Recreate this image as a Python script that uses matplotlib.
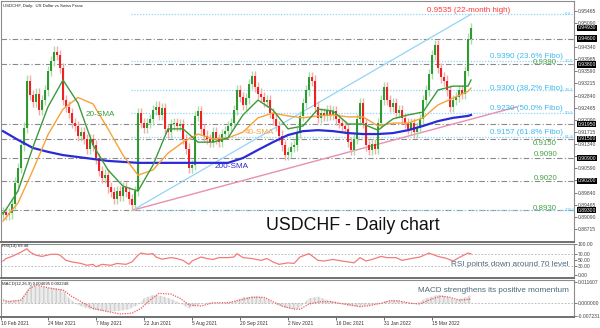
import matplotlib
matplotlib.use("Agg")
import matplotlib.pyplot as plt
import matplotlib.transforms as mtrans

plt.rcParams['font.family'] = ['Liberation Sans', 'DejaVu Sans']

# one candle per two trading days
closes = [
    0.8925, 0.8915, 0.8920, 0.8950, 0.9015, 0.9060, 0.9130, 0.9185, 0.9330, 0.9285,
    0.9265, 0.9290, 0.9240, 0.9270, 0.9300, 0.9360, 0.9390, 0.9420, 0.9410, 0.9370,
    0.9270, 0.9250, 0.9230, 0.9200, 0.9190, 0.9160, 0.9170, 0.9150, 0.9120, 0.9150,
    0.9130, 0.9090, 0.9050, 0.9030, 0.9040, 0.9000, 0.8985, 0.8965, 0.8990, 0.8975,
    0.9000, 0.8985, 0.8965, 0.8945, 0.8990, 0.9230, 0.9200, 0.9185, 0.9200, 0.9210,
    0.9240, 0.9250, 0.9225, 0.9245, 0.9180, 0.9170, 0.9195, 0.9200, 0.9190, 0.9195,
    0.9150, 0.9120, 0.9060, 0.9070, 0.9220, 0.9235, 0.9180, 0.9160, 0.9150, 0.9140,
    0.9170, 0.9150, 0.9140, 0.9165, 0.9175, 0.9190, 0.9200, 0.9240, 0.9300,
    0.9280, 0.9255, 0.9275, 0.9320, 0.9345, 0.9310, 0.9290, 0.9280, 0.9265, 0.9270,
    0.9230, 0.9210, 0.9190, 0.9160, 0.9130, 0.9100, 0.9110, 0.9125, 0.9130, 0.9170,
    0.9220, 0.9260, 0.9300, 0.9340, 0.9330, 0.9250, 0.9215, 0.9230, 0.9220, 0.9240,
    0.9225, 0.9235, 0.9210, 0.9200, 0.9190, 0.9180, 0.9140, 0.9115, 0.9150, 0.9210,
    0.9260, 0.9200, 0.9130, 0.9115, 0.9135, 0.9120, 0.9200, 0.9270, 0.9310, 0.9270,
    0.9250, 0.9260, 0.9230, 0.9240, 0.9215, 0.9200, 0.9180, 0.9200, 0.9170, 0.9185,
    0.9210, 0.9270, 0.9300, 0.9350, 0.9410, 0.9440, 0.9370, 0.9340, 0.9330, 0.9300,
    0.9250, 0.9270, 0.9280, 0.9300, 0.9290, 0.9360, 0.9460, 0.9493,
]
first_open = 0.8920

sma_bars = list(range(0, 156, 5)) + [156]
sma20 = [0.8918, 0.8989, 0.9125, 0.9249, 0.9332, 0.9261, 0.9131, 0.9054, 0.9004, 0.8989,
         0.9069, 0.9181, 0.9181, 0.9140, 0.9140, 0.9153, 0.9224, 0.9270, 0.9239, 0.9181,
         0.9190, 0.9242, 0.9236, 0.9196, 0.9196, 0.9177, 0.9212, 0.9224, 0.9233, 0.9301,
         0.9313, 0.9313, 0.9332]
sma40 = [0.8896, 0.8952, 0.9054, 0.9163, 0.9242, 0.9278, 0.9258, 0.9181, 0.9100, 0.9038,
         0.9054, 0.9106, 0.9140, 0.9165, 0.9150, 0.9153, 0.9171, 0.9215, 0.9230, 0.9221,
         0.9215, 0.9221, 0.9224, 0.9218, 0.9218, 0.9190, 0.9199, 0.9199, 0.9215, 0.9255,
         0.9276, 0.9297, 0.9307]
sma200 = [0.9174, 0.9147, 0.9122, 0.9110, 0.9100, 0.9094, 0.9088, 0.9082, 0.9079, 0.9076,
          0.9076, 0.9076, 0.9076, 0.9076, 0.9076, 0.9076, 0.9091, 0.9116, 0.9140, 0.9162,
          0.9174, 0.9177, 0.9174, 0.9168, 0.9165, 0.9165, 0.9168, 0.9177, 0.9190, 0.9205,
          0.9215, 0.9221, 0.9224]

sr_levels = [0.9460, 0.9380, 0.9195, 0.9150, 0.9090, 0.9020, 0.8930]
fib_levels = [0.9535, 0.9390, 0.9300, 0.9230, 0.9157, 0.8930]
fib_pcts = ['0.0', '23.6', '38.2', '50.0', '61.8', '100.0']

# trendlines: (bar, price) pairs
rise_line = ([43.3, 156.0], [0.8930, 0.9535])
support_line = ([43.3, 171.3], [0.8930, 0.9249])

rsi_bars = [0, 1, 3, 6, 8, 9, 11, 13, 16, 18, 19, 21, 23, 26, 28, 30, 31, 33, 36, 38,
            41, 43, 45, 46, 48, 50, 51, 53, 56, 58, 60, 62, 63, 66, 68, 70, 72, 75, 77, 78,
            80, 83, 86, 88, 90, 92, 95, 97, 99, 102, 105, 107, 110, 113, 117, 119, 121, 123,
            126, 128, 131, 133, 136, 139, 142, 145, 148, 150, 152, 155, 156]
rsi_vals = [46, 54, 61, 75, 86, 75, 65, 61, 68, 68, 65, 48, 43, 38, 32, 35, 27, 35, 32, 38,
            35, 43, 65, 72, 68, 70, 59, 52, 57, 54, 48, 35, 46, 59, 54, 51, 57, 57, 59, 70,
            57, 54, 48, 54, 43, 35, 40, 38, 59, 70, 48, 46, 51, 46, 40, 57, 46, 51,
            61, 57, 57, 48, 54, 59, 72, 61, 54, 46, 57, 72, 69.48]

macd_bars = [0, 6, 8, 9, 12, 16, 18, 20, 22, 25, 28, 32, 36, 39, 42, 45, 47, 50, 53, 57,
             60, 62, 65, 68, 72, 77, 80, 85, 88, 91, 95, 98, 99, 102, 105, 108, 111, 115,
             118, 121, 125, 128, 131, 135, 138, 141, 145, 148, 151, 155, 156]
macd_vals = [0.0012, 0.0018, 0.0070, 0.0101, 0.0092, 0.0083, 0.0083, 0.0074, 0.0028, -0.0009,
             -0.0028, -0.0041, -0.0046, -0.0041, -0.0033, -0.0009, 0.0028, 0.0046, 0.0040, 0.0018,
             -0.0009, -0.0028, -0.0009, 0.0004, 0.0000, 0.0009, 0.0033, 0.0040, 0.0022, -0.0006,
             -0.0028, -0.0032, -0.0025, 0.0028, 0.0037, 0.0018, 0.0009, -0.0015, -0.0019, -0.0013,
             -0.0004, 0.0014, 0.0018, 0.0003, 0.0000, 0.0028, 0.0046, 0.0037, 0.0018, 0.0037,
             0.004695]
signal_bars = [0, 2, 6, 9, 11, 15, 18, 20, 23, 27, 30, 35, 39, 43, 46, 49, 52, 56, 59, 62,
               66, 70, 75, 79, 83, 87, 90, 93, 97, 99, 102, 106, 109, 112, 116, 119, 122, 126,
               129, 132, 136, 139, 142, 146, 149, 152, 156]
signal_vals = [0.0018, 0.0009, 0.0018, 0.0083, 0.0101, 0.0086, 0.0077, 0.0074, 0.0037, 0.0000,
               -0.0028, -0.0046, -0.0059, -0.0055, -0.0028, 0.0018, 0.0055, 0.0051, 0.0028, -0.0009,
               -0.0015, 0.0003, 0.0003, 0.0018, 0.0033, 0.0033, 0.0009, -0.0015, -0.0032, -0.0033,
               -0.0004, 0.0009, 0.0009, 0.0000, -0.0009, -0.0019, -0.0013, 0.0000, 0.0014, 0.0013,
               0.0000, -0.0004, 0.0018, 0.0040, 0.0033, 0.0018, 0.002248]

date_bars = [-0.6, 15, 31, 47, 63, 79, 95, 111, 127, 143]
date_labels = ['10 Feb 2021', '24 Mar 2021', '7 May 2021', '22 Jun 2021', '5 Aug 2021',
               '20 Sep 2021', '2 Nov 2021', '16 Dec 2021', '31 Jan 2022', '15 Mar 2022']

price_ticks = [0.95465 - 0.00375 * k for k in range(19)]

# ---------------------------------------------------------------- layout
W, H = 600, 328
fig = plt.figure(figsize=(W / 100, H / 100), dpi=100)


def rect(top, bottom):
    return [1 / W, 1 - bottom / H, 573 / W, (bottom - top) / H]


def put(x, y, s, **kw):
    fig.text(x / W, 1 - y / H, s, **kw)


ax = fig.add_axes(rect(1, 241.5))
ax_rsi = fig.add_axes(rect(243.5, 277.5))
ax_macd = fig.add_axes(rect(279.5, 317))
xlim = (-2 / 3, 571 / 3)

for a in (ax, ax_rsi, ax_macd):
    a.set_xlim(*xlim)
    a.yaxis.tick_right()
    a.tick_params(axis='y', labelsize=3.6, length=2, pad=0.8, colors='#444444', width=0.5)
    a.tick_params(axis='x', length=0, labelbottom=False)
    for s in a.spines.values():
        s.set_color('#8c8c8c')
        s.set_linewidth(0.8)
    a.spines['bottom'].set_linewidth(1.4)
    a.spines['bottom'].set_color('#707070')

# ---------------------------------------------------------------- main panel
ax.set_ylim(0.88330, 0.95761)
ax.set_yticks(price_ticks)
# labels hidden behind a level box on the reference are left blank
ax.set_yticklabels(['' if any(abs(t - l) < 0.0012 for l in sr_levels + [closes[-1]])
                    else '%.5f' % t for t in price_ticks])

for lvl in sr_levels:
    ax.axhline(lvl, color='#8a8a8a', lw=0.8, ls=(0, (5, 2, 1, 2)), zorder=1)
ax.hlines(fib_levels, 42.7, xlim[1], colors='#8fd3f5', lw=0.9, linestyles=(0, (1, 1.3)), zorder=1)

ax.plot(*rise_line, color='#93d4f4', lw=0.9, zorder=2)
ax.plot(*support_line, color='#e98fb0', lw=1.0, zorder=2)

opens = [first_open] + closes[:-1]
idx = list(range(len(closes)))
wick = 0.0016
lo = [min(o, c) for o, c in zip(opens, closes)]
hi = [max(o, c) for o, c in zip(opens, closes)]
up = [c >= o for o, c in zip(opens, closes)]
ax.vlines(idx, [v - wick for v in lo], [v + wick for v in hi],
          colors=['#a9dca9' if u else '#f5a9a9' for u in up], lw=1.0, zorder=3)
ax.bar(idx, [max(h - l, 0.0003) for h, l in zip(hi, lo)], bottom=lo, width=0.52,
       color=['#2f9a2f' if u else '#ee2222' for u in up], lw=0, zorder=4)

ax.plot(sma_bars, sma200, color='#2b2bd6', lw=1.6, zorder=5)
ax.plot(sma_bars, sma40, color='#f7a23a', lw=1.0, zorder=5)
ax.plot(sma_bars, sma20, color='#3c9a3c', lw=1.0, zorder=5)

trans = mtrans.blended_transform_factory(ax.transAxes, ax.transData)
for lvl in sr_levels + [closes[-1]]:
    ax.text(1.006, lvl, '%.5f' % lvl, transform=trans, fontsize=3.6, color='white',
            va='center', ha='left', clip_on=False, zorder=10,
            bbox=dict(boxstyle='square,pad=0.12', fc='black', ec='none'))
for lvl, pct in zip(fib_levels, fib_pcts):
    ax.text(0.9845, lvl, pct, transform=trans, fontsize=3.2, color='#5cc4f2',
            va='center', ha='left')

fib_blue = '#3fb8f0'
lvl_green = '#47a447'
put(3, 6, 'USDCHF, Daily:  US Dollar vs Swiss Franc', fontsize=3.1, color='#222222', va='center')
put(469, 10, '0.9535 (22-month high)', fontsize=5.8, color='#ff3a3a', ha='center', va='center')
for y, s in [(56, '0.9390 (23.6% Fibo)'), (88, '0.9300 (38.2% Fibo)'),
             (109, '0.9230 (50.0% Fibo)'), (133, '0.9157 (61.8% Fibo)')]:
    put(563, y, s, fontsize=5.8, color=fib_blue, ha='right', va='center')
for y, s in [(63, '0.9380'), (143, '0.9150'), (155, '0.9090'), (178, '0.9020'), (208, '0.8930')]:
    put(557, y, s, fontsize=5.7, color=lvl_green, ha='right', va='center')
put(86, 115, '20-SMA', fontsize=5.9, color='#3c9a3c', va='center')
put(245, 133, '40-SMA', fontsize=5.9, color='#f7a23a', va='center')
put(215, 167, '200-SMA', fontsize=5.9, color='#2b2bd6', va='center')
put(353, 226, 'USDCHF - Daily chart', fontsize=12.8, color='#111111', ha='center', va='center')

# ---------------------------------------------------------------- RSI panel
ax_rsi.set_ylim(-8, 103.2)
ax_rsi.set_yticks([0, 30, 50, 70, 100])
ax_rsi.set_yticklabels(['0.00', '30.00', '50.00', '70.00', '100.00'])
for lvl in (30, 70):
    ax_rsi.axhline(lvl, color='#b0b0b0', lw=0.6, ls=(0, (2, 2)))
ax_rsi.plot(rsi_bars, rsi_vals, color='#f27b7b', lw=0.9)
put(2, 245.5, 'RSI(14) 69.48', fontsize=3.1, color='#222222', va='center')
put(568, 265, 'RSI points down around 70 level', fontsize=5.9, color='#4d6a78',
    ha='right', va='center')

# ---------------------------------------------------------------- MACD panel
ax_macd.set_ylim(-0.00758, 0.01316)
ax_macd.set_yticks([-0.0069, 0.0, 0.011607])
ax_macd.set_yticklabels(['-0.007231', '0.000000', '0.011607'])
ax_macd.axhline(0, color='#b0b0b0', lw=0.6, ls=(0, (2, 2)))
ax_macd.fill_between(macd_bars, 0, macd_vals, facecolor='#ececec', edgecolor='#cfcfcf',
                     hatch='||||', lw=0)
ax_macd.plot(signal_bars, signal_vals, color='#f05a5a', lw=0.9, ls=(0, (1, 1)))
put(2, 283.5, 'MACD(12,26,9) 0.004695 0.002248', fontsize=3.1, color='#222222', va='center')
put(569, 290, 'MACD strengthens its positive momentum', fontsize=5.9, color='#4d6a78',
    ha='right', va='center')

ax_macd.set_xticks(date_bars)
ax_macd.set_xticklabels(date_labels)
ax_macd.tick_params(axis='x', length=2, width=0.5, pad=1, labelsize=3.5,
                    labelbottom=True, colors='#333333')
for lab in ax_macd.get_xticklabels():
    lab.set_ha('left')

fig.savefig('out.png', dpi=100)
